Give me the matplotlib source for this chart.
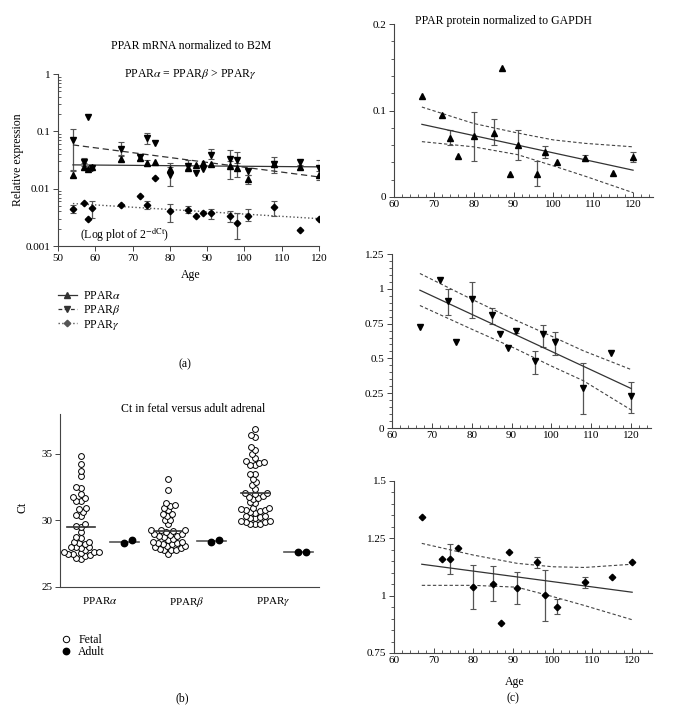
import numpy as np
import matplotlib
matplotlib.use("Agg")
import matplotlib.pyplot as plt
from matplotlib.lines import Line2D
from matplotlib.ticker import MultipleLocator, LogLocator, NullFormatter

plt.rcParams['font.family'] = ['Liberation Serif', 'DejaVu Serif']
plt.rcParams['mathtext.fontset'] = 'stix'
plt.rcParams['font.size'] = 8.5

# ---- (a) mRNA, log plot ----
age_a = [54, 57, 58, 59, 67, 72, 74, 76, 80, 85, 87, 89, 91, 96, 98, 101, 108, 115, 120]
alpha_mrna = [0.0175, 0.024, 0.022, 0.024, 0.033, 0.034, 0.028, 0.029, 0.022, 0.023, 0.026, 0.028, 0.027, 0.025, 0.023, 0.015, 0.027, 0.024, 0.017]
alpha_lo = [0.016, 0.021, np.nan, np.nan, 0.030, 0.031, 0.025, np.nan, 0.019, 0.021, np.nan, np.nan, np.nan, 0.015, 0.016, 0.012, 0.024, 0.022, 0.014]
alpha_hi = [0.020, 0.028, np.nan, np.nan, 0.037, 0.038, 0.032, np.nan, 0.028, 0.026, np.nan, np.nan, np.nan, 0.030, 0.028, 0.017, 0.030, 0.026, 0.020]
beta_mrna = [0.070, 0.029, 0.175, 0.023, 0.050, 0.035, 0.077, 0.062, 0.017, 0.025, 0.019, 0.022, 0.039, 0.033, 0.032, 0.020, 0.027, 0.029, 0.023]
beta_lo = [0.021, 0.025, np.nan, np.nan, 0.038, np.nan, 0.060, np.nan, 0.011, 0.022, np.nan, np.nan, 0.033, 0.024, 0.025, 0.017, 0.019, np.nan, 0.016]
beta_hi = [0.112, 0.034, np.nan, np.nan, 0.065, np.nan, 0.095, np.nan, 0.024, 0.031, np.nan, np.nan, 0.050, 0.047, 0.044, 0.023, 0.035, np.nan, 0.032]
gamma_mrna = [0.0044, 0.0056, 0.0029, 0.0046, 0.0052, 0.0074, 0.0052, 0.0155, 0.0040, 0.0043, 0.0034, 0.0037, 0.0037, 0.0033, 0.0025, 0.0034, 0.0047, 0.0019, 0.0029]
gamma_lo = [0.0037, np.nan, np.nan, 0.0031, 0.0049, np.nan, 0.0045, np.nan, 0.0026, 0.0038, np.nan, np.nan, 0.0030, 0.0026, 0.0013, 0.0027, 0.0034, np.nan, np.nan]
gamma_hi = [0.0052, np.nan, np.nan, 0.0060, 0.0055, np.nan, 0.0060, np.nan, 0.0053, 0.0050, np.nan, np.nan, 0.0045, 0.0040, 0.0038, 0.0045, 0.0060, np.nan, np.nan]
fit_age_a = [54, 120]
fit_alpha = [0.026, 0.024]
fit_beta = [0.058, 0.016]
fit_gamma = [0.0055, 0.0030]

# ---- (b) Ct fetal vs adult ----
genes = ['PPAR$\\alpha$', 'PPAR$\\beta$', 'PPAR$\\gamma$']
fetal_alpha = [34.83, 34.23, 33.71, 33.32, 32.5, 32.45, 31.98, 31.68, 31.76, 31.44, 31.49, 30.94,
               30.87, 30.64, 30.4, 30.3, 29.75, 29.55, 29.5, 29.1, 28.74, 28.66, 28.4, 28.4,
               28.2, 28.0, 28.0, 28.0, 27.95, 27.65, 27.6, 27.6, 27.55, 27.45, 27.45, 27.4,
               27.35, 27.1, 27.2, 27.75, 28.3]
fetal_beta = [33.15, 32.3, 31.3, 31.1, 31.15, 30.9, 30.75, 30.5, 30.45, 30.35, 30.05, 30.0, 29.7,
              29.25, 29.25, 29.25, 29.2, 29.1, 29.0, 28.95, 28.9, 28.8, 28.75, 28.8, 28.6, 28.55,
              28.4, 28.3, 28.3, 28.25, 28.35, 28.2, 28.05, 28.0, 28.1, 27.9, 27.8, 27.85, 27.8,
              27.75, 27.5]
fetal_gamma = [36.9, 36.45, 36.3, 35.55, 35.3, 35.0, 34.7, 34.45, 34.4, 34.35, 34.2, 34.15, 33.5,
               33.5, 33.15, 32.9, 32.7, 32.4, 32.1, 32.05, 32.0, 31.85, 31.8, 31.7, 31.65, 31.3,
               31.35, 30.9, 30.85, 30.95, 30.75, 30.7, 30.8, 30.55, 30.6, 30.3, 30.35, 30.25,
               30.15, 30.2, 29.95, 29.9, 29.95, 29.85, 29.7, 29.75, 29.7]
fetal_median = [29.5, 29.18, 32.1]
adult_ct = [[28.3, 28.5], [28.4, 28.5], [27.6, 27.6]]
adult_median = [28.4, 28.45, 27.6]

# ---- (c) protein ----
age_c = [67, 72, 74, 76, 80, 85, 87, 89, 91, 96, 98, 101, 108, 115, 120]
prot_alpha = [0.117, 0.095, 0.068, 0.047, 0.070, 0.074, 0.149, 0.027, 0.060, 0.027, 0.052, 0.040, 0.045, 0.028, 0.046]
prot_alpha_lo = [np.nan, np.nan, 0.060, np.nan, 0.042, 0.060, np.nan, np.nan, 0.043, 0.013, 0.045, np.nan, 0.042, np.nan, 0.040]
prot_alpha_hi = [np.nan, np.nan, 0.077, np.nan, 0.098, 0.090, np.nan, np.nan, 0.078, 0.042, 0.059, np.nan, 0.049, np.nan, 0.052]
prot_beta = [0.727, 1.06, 0.91, 0.62, 0.925, 0.81, 0.672, 0.575, 0.70, 0.48, 0.672, 0.615, 0.29, 0.537, 0.227]
prot_beta_lo = [np.nan, np.nan, 0.81, np.nan, 0.79, 0.75, np.nan, np.nan, 0.68, 0.385, 0.585, 0.525, 0.10, np.nan, 0.105]
prot_beta_hi = [np.nan, np.nan, 1.00, np.nan, 1.05, 0.865, np.nan, np.nan, 0.72, 0.555, 0.74, 0.69, 0.465, np.nan, 0.33]
prot_gamma = [1.344, 1.158, 1.16, 1.21, 1.038, 1.053, 0.88, 1.19, 1.035, 1.145, 1.003, 0.951, 1.058, 1.081, 1.145]
prot_gamma_lo = [np.nan, np.nan, 1.095, np.nan, 0.94, 0.975, np.nan, np.nan, 0.965, 1.12, 0.89, 0.92, 1.035, np.nan, np.nan]
prot_gamma_hi = [np.nan, np.nan, 1.225, np.nan, 1.135, 1.13, np.nan, np.nan, 1.105, 1.17, 1.11, 0.985, 1.08, np.nan, np.nan]

fit_age_c = [67, 120]
fit_prot_alpha = [0.084, 0.031]
fit_prot_beta = [0.99, 0.284]
fit_prot_gamma = [1.137, 1.015]
band_age = [67, 80, 91, 100, 108, 120]
band_alpha_up = [0.104, 0.085, 0.074, 0.066, 0.062, 0.058]
band_alpha_dn = [0.064, 0.058, 0.049, 0.036, 0.024, 0.005]
band_beta_up = [1.11, 0.925, 0.775, 0.66, 0.555, 0.42]
band_beta_dn = [0.88, 0.71, 0.57, 0.445, 0.34, 0.13]
band_gamma_up = [1.228, 1.177, 1.141, 1.126, 1.123, 1.137]
band_gamma_dn = [1.045, 1.045, 1.037, 0.996, 0.957, 0.895]

W, H = 684, 712
fig = plt.figure(figsize=(W / 100, H / 100), dpi=100)


def px_axes(l, t, r, b):
    return fig.add_axes([l / W, 1 - b / H, (r - l) / W, (b - t) / H])


def ftext(x, y, s, **kw):
    fig.text(x / W, 1 - y / H, s, ha=kw.pop('ha', 'center'), va=kw.pop('va', 'center'), **kw)


def style(ax):
    ax.spines['top'].set_visible(False)
    ax.spines['right'].set_visible(False)
    for s in ['left', 'bottom']:
        ax.spines[s].set_linewidth(0.8)
        ax.spines[s].set_color('#444444')
    ax.tick_params(labelsize=8, width=0.7, length=3.5, color='#444444', pad=2)
    ax.tick_params(which='minor', width=0.6, length=2, color='#444444')


def errbars(ax, x, lo, hi):
    x = np.array(x, float)
    lo = np.array(lo, float)
    hi = np.array(hi, float)
    m = ~np.isnan(lo)
    mid = (lo[m] + hi[m]) / 2
    ax.errorbar(x[m], mid, yerr=[mid - lo[m], hi[m] - mid], fmt='none',
                ecolor='#555555', elinewidth=0.9, capsize=2.5, capthick=0.8, zorder=2)


# ---------- panel (a) ----------
ax = px_axes(58, 74, 319, 246)
style(ax)
ax.set_yscale('log')
ax.set_xlim(50, 120)
ax.set_ylim(0.001, 1)
ax.set_xticks(range(50, 121, 10))
ax.set_yticks([0.001, 0.01, 0.1, 1])
ax.set_yticklabels(['0.001', '0.01', '0.1', '1'])
ax.yaxis.set_minor_locator(LogLocator(base=10, subs=np.arange(2, 10)))
ax.yaxis.set_minor_formatter(NullFormatter())
ax.tick_params(axis='y', which='minor', direction='in')

errbars(ax, age_a, alpha_lo, alpha_hi)
errbars(ax, age_a, beta_lo, beta_hi)
errbars(ax, age_a, gamma_lo, gamma_hi)
ax.plot(fit_age_a, fit_alpha, '-', color='#333333', lw=0.9)
ax.plot(fit_age_a, fit_beta, '--', color='#333333', lw=0.9, dashes=(5, 3))
ax.plot(fit_age_a, fit_gamma, ':', color='#555555', lw=1.0)
ax.plot(age_a, alpha_mrna, '^', color='black', ms=4.5, zorder=3)
ax.plot(age_a, beta_mrna, 'v', color='black', ms=4.5, zorder=3)
ax.plot(age_a, gamma_mrna, 'D', color='black', ms=3.3, zorder=3)
ax.text(56, 0.0016, '(Log plot of 2$^{-\\mathrm{dCt}}$)', ha='left', va='center', fontsize=8.5)

ftext(191, 46, 'PPAR mRNA normalized to B2M')
ftext(190, 74, 'PPAR$\\alpha$ = PPAR$\\beta$ > PPAR$\\gamma$')
ftext(18, 160, 'Relative expression', rotation=90)
ftext(191, 275, 'Age')
handles = [Line2D([], [], color='#333333', ls='-', marker='^', ms=4.5, lw=0.9),
           Line2D([], [], color='#333333', ls='--', marker='v', ms=4.5, lw=0.9, dashes=(3, 2)),
           Line2D([], [], color='#555555', ls=':', marker='D', ms=3.3, lw=1.0)]
fig.legend(handles, ['PPAR$\\alpha$', 'PPAR$\\beta$', 'PPAR$\\gamma$'], loc='upper left',
           bbox_to_anchor=(53 / W, 1 - 285 / H), frameon=False, handlelength=1.6,
           handletextpad=0.5, labelspacing=0.08, fontsize=8.5, borderaxespad=0)
ftext(185, 364, '(a)')

# ---------- panel (b) ----------
ax = px_axes(60, 414, 319, 587)
style(ax)
ax.set_xlim(-0.46, 2.52)
ax.set_ylim(25, 38)
ax.set_yticks([25, 30, 35])
ax.set_xticks([0, 1, 2])
ax.set_xticklabels(genes)
ax.tick_params(axis='x', length=0, pad=6)

px_per_x = 87.0
px_per_y = 13.3
diam = 5.0


def swarm(vals, center):
    placed = []
    xs = []
    for v in sorted(vals):
        y = v * px_per_y
        blocked = []
        for (px, py) in placed:
            dy = abs(py - y)
            if dy < diam:
                half = np.sqrt(diam ** 2 - dy ** 2)
                blocked.append((px - half, px + half))
        cands = [0.0] + [b for iv in blocked for b in iv]
        cands.sort(key=lambda c: (abs(c), c))
        for c in cands:
            if all(not (lo + 1e-6 < c < hi - 1e-6) for lo, hi in blocked):
                break
        placed.append((c, y))
        xs.append(center + c / px_per_x)
    return xs, sorted(vals)


fetal_off = -0.215
for i, fv in enumerate([fetal_alpha, fetal_beta, fetal_gamma]):
    xs, ys = swarm(fv, i + fetal_off)
    ax.plot(xs, ys, 'o', mfc='white', mec='black', mew=0.7, ms=4.2, zorder=3)
    ax.plot([i + fetal_off - 0.16, i + fetal_off + 0.16], [fetal_median[i]] * 2,
            color='#333333', lw=1.2, zorder=4)
    ax.plot([i + 0.28, i + 0.37], adult_ct[i], 'o', color='black', ms=4.6, zorder=3)
    ax.plot([i + 0.12, i + 0.45], [adult_median[i]] * 2, color='#555555', lw=1.2, zorder=2)

ftext(193, 409, 'Ct in fetal versus adult adrenal')
ftext(22, 507, 'Ct', rotation=90)
fig.legend([Line2D([], [], ls='', marker='o', mfc='white', mec='black', mew=0.7, ms=4.6),
            Line2D([], [], ls='', marker='o', color='black', ms=4.6)],
           ['Fetal', 'Adult'], loc='upper left', bbox_to_anchor=(57 / W, 1 - 629 / H),
           frameon=False, handlelength=0.8, handletextpad=0.6, labelspacing=0.02,
           fontsize=8.5, borderaxespad=0)
ftext(182, 698, '(b)')

# ---------- panel (c) ----------
panels = [
    ((394, 24, 653, 197), (0, 0.2), 0.1, 0.02, prot_alpha, prot_alpha_lo, prot_alpha_hi,
     fit_prot_alpha, band_alpha_up, band_alpha_dn, '^', 4.5, ['0', '0.1', '0.2']),
    ((392, 254, 651, 428), (0, 1.25), 0.25, 0.05, prot_beta, prot_beta_lo, prot_beta_hi,
     fit_prot_beta, band_beta_up, band_beta_dn, 'v', 4.5, ['0', '0.25', '0.5', '0.75', '1', '1.25']),
    ((394, 481, 652, 653), (0.75, 1.5), 0.25, 0.05, prot_gamma, prot_gamma_lo, prot_gamma_hi,
     fit_prot_gamma, band_gamma_up, band_gamma_dn, 'D', 3.3, ['0.75', '1', '1.25', '1.5']),
]
for box, ylim, major, minor, vals, lo, hi, fit, up, dn, mk, ms, labels in panels:
    ax = px_axes(*box)
    style(ax)
    ax.set_xlim(60, 125)
    ax.set_ylim(*ylim)
    ax.set_xticks(range(60, 121, 10))
    ax.xaxis.set_minor_locator(MultipleLocator(2))
    ax.yaxis.set_minor_locator(MultipleLocator(minor))
    ax.set_yticks(np.arange(ylim[0], ylim[1] + 1e-9, major))
    ax.set_yticklabels(labels)
    ax.tick_params(axis='x', which='both', direction='in')
    errbars(ax, age_c, lo, hi)
    ax.plot(fit_age_c, fit, '-', color='#333333', lw=0.9)
    ax.plot(band_age, up, '--', color='#444444', lw=0.8, dashes=(3, 2))
    ax.plot(band_age, dn, '--', color='#444444', lw=0.8, dashes=(3, 2))
    ax.plot(age_c, vals, mk, color='black', ms=ms, zorder=3)

ftext(503, 21, 'PPAR protein normalized to GAPDH')
ftext(515, 682, 'Age')
ftext(513, 698, '(c)')

fig.savefig('out.png', dpi=100)
